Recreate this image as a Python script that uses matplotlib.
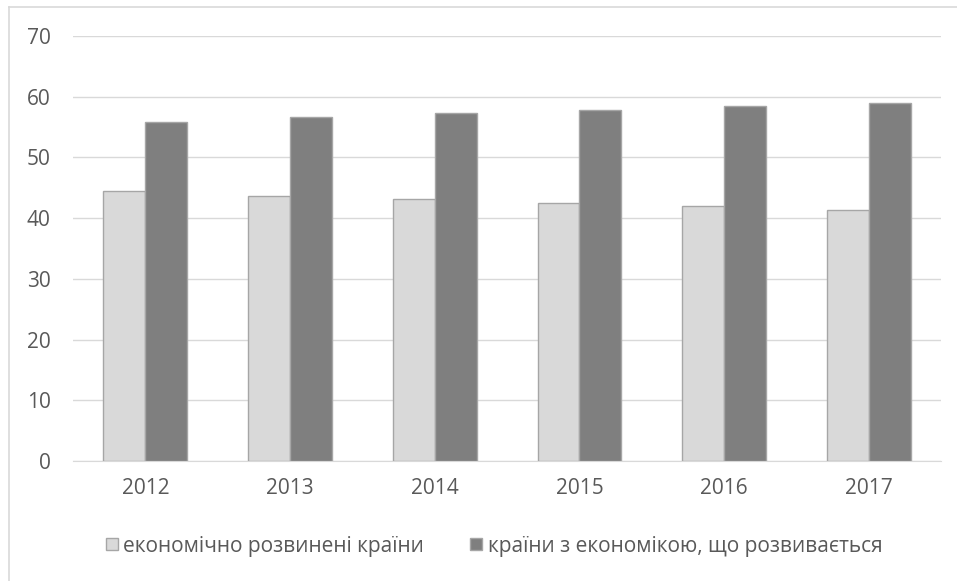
import numpy as np
import matplotlib.pyplot as plt
from matplotlib.lines import Line2D

# Data
years = ["2012", "2013", "2014", "2015", "2016", "2017"]
developed = [44.5, 43.6, 43.1, 42.5, 42.0, 41.4]
developing = [55.8, 56.7, 57.3, 57.8, 58.4, 58.9]
labels = ["економічно розвинені країни", "країни з економікою, що розвивається"]

plt.rcParams['font.family'] = ['Open Sans', 'DejaVu Sans']
txt = '#595959'

fig = plt.figure(figsize=(9.57, 5.81), dpi=100)
ax = fig.add_axes([0.0763, 0.2065, 0.9072, 0.7315])

x = np.arange(len(years))
w = 0.29
ax.bar(x - w / 2, developed, w, color='#d9d9d9', edgecolor='#a6a6a6', linewidth=1, zorder=3)
ax.bar(x + w / 2, developing, w, color='#7f7f7f', edgecolor='#a6a6a6', linewidth=1, zorder=3)

ax.set_ylim(0, 70)
ax.set_xlim(-0.5, len(years) - 0.5)
ax.set_yticks(range(0, 71, 10))
ax.set_xticks(x)
ax.set_xticklabels(years)
ax.yaxis.grid(True, color='#d9d9d9', linewidth=1, zorder=0)
ax.tick_params(axis='both', length=0, labelsize=15, colors=txt)
ax.tick_params(axis='y', pad=16)
ax.tick_params(axis='x', pad=12)
for s in ['top', 'right', 'left']:
    ax.spines[s].set_visible(False)
ax.spines['bottom'].set_color('#d9d9d9')

# legend
handles = [Line2D([], [], marker='s', linestyle='none', markersize=8.6,
                  markerfacecolor='#d9d9d9', markeredgecolor='#a6a6a6'),
           Line2D([], [], marker='s', linestyle='none', markersize=8.6,
                  markerfacecolor='#7f7f7f', markeredgecolor='#a6a6a6')]
fig.legend(handles, labels, loc='center', bbox_to_anchor=(0.516, 0.06), ncol=2,
           frameon=False, fontsize=15, labelcolor=txt, handletextpad=0.25,
           columnspacing=2.2, handlelength=0.6)

# outer chart border (left and top visible)
fig.add_artist(Line2D([0.0094, 0.0094], [0, 1 - 7 / 581], color='#d9d9d9', linewidth=1.2))
fig.add_artist(Line2D([0.0094, 1], [1 - 7 / 581, 1 - 7 / 581], color='#d9d9d9', linewidth=1.2))

fig.savefig('out.png', dpi=100)
